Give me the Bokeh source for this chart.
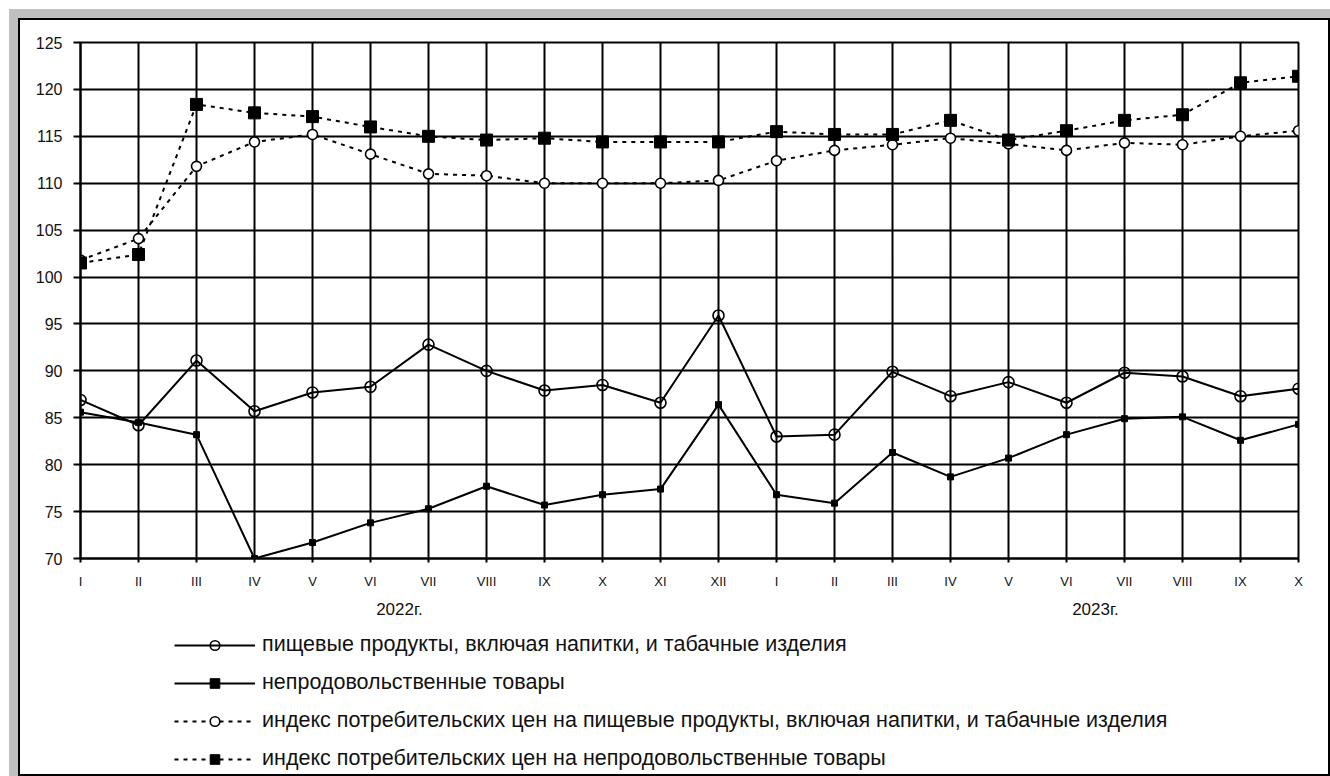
from bokeh.plotting import figure
from bokeh.layouts import column
from bokeh.models import Range1d, FixedTicker, LinearAxis, Legend, LegendItem
from bokeh.embed import file_html
from bokeh.resources import INLINE

months = ["I", "II", "III", "IV", "V", "VI", "VII", "VIII", "IX", "X", "XI", "XII",
          "I", "II", "III", "IV", "V", "VI", "VII", "VIII", "IX", "X"]
years = ["2022г.", "2023г."]
year_pos = [5.5, 17.5]
yticks = [70, 75, 80, 85, 90, 95, 100, 105, 110, 115, 120, 125]

food = [86.9, 84.2, 91.1, 85.7, 87.7, 88.3, 92.8, 90.0, 87.9, 88.5, 86.6, 95.9,
        83.0, 83.2, 89.9, 87.3, 88.8, 86.6, 89.8, 89.4, 87.3, 88.1]
nonfood = [85.6, 84.5, 83.2, 70.0, 71.7, 73.8, 75.3, 77.7, 75.7, 76.8, 77.4, 86.4,
           76.8, 75.9, 81.3, 78.7, 80.7, 83.2, 84.9, 85.1, 82.6, 84.3]
cpi_food = [101.8, 104.1, 111.8, 114.4, 115.2, 113.1, 111.0, 110.8, 110.0, 110.0, 110.0, 110.3,
            112.4, 113.5, 114.1, 114.8, 114.2, 113.5, 114.3, 114.1, 115.0, 115.6]
cpi_nonfood = [101.5, 102.4, 118.4, 117.5, 117.1, 116.0, 115.0, 114.6, 114.8, 114.4, 114.4, 114.4,
               115.5, 115.2, 115.2, 116.7, 114.6, 115.6, 116.7, 117.3, 120.7, 121.4]

labels = [
    "пищевые продукты, включая напитки, и табачные изделия",
    "непродовольственные товары",
    "индекс потребительских цен на пищевые продукты, включая напитки, и табачные изделия",
    "индекс потребительских цен на непродовольственные товары",
]

x = list(range(len(months)))
FONT = "Liberation Sans"

styles = [
    dict(line_width=2, line_dash="solid", marker="circle", size=11, fill_color=None, mlw=1.6),
    dict(line_width=2, line_dash="solid", marker="square", size=6, fill_color="black", mlw=1),
    dict(line_width=2, line_dash="4 5", marker="circle", size=10, fill_color="white", mlw=1.6),
    dict(line_width=2, line_dash="4 5", marker="square", size=12, fill_color="black", mlw=1),
]
series = [food, nonfood, cpi_food, cpi_nonfood]

p = figure(width=1330, height=628, x_range=Range1d(0, len(months) - 1), y_range=Range1d(70, 125),
           output_backend="svg", toolbar_location=None,
           min_border_left=80, min_border_right=32, min_border_top=42, min_border_bottom=70)
p.border_fill_color = None
p.background_fill_color = "white"
p.outline_line_color = "black"
p.outline_line_width = 2

# axes
p.xaxis.ticker = FixedTicker(ticks=x)
p.xaxis.major_label_overrides = {i: m for i, m in zip(x, months)}
p.xaxis.major_tick_out = 4
p.xaxis.major_tick_in = 0
p.xaxis.minor_tick_line_color = None
p.xaxis.major_tick_line_width = 2
p.xaxis.axis_line_width = 2
p.xaxis.major_label_standoff = 11
p.xaxis.major_label_text_font = FONT
p.xaxis.major_label_text_font_size = "13px"
p.xaxis.major_label_text_color = "#111111"

p.yaxis.ticker = FixedTicker(ticks=yticks)
p.yaxis.major_tick_out = 7
p.yaxis.major_tick_in = 0
p.yaxis.minor_tick_line_color = None
p.yaxis.major_tick_line_width = 2
p.yaxis.axis_line_width = 2
p.yaxis.major_label_standoff = 11
p.yaxis.major_label_text_font = FONT
p.yaxis.major_label_text_font_size = "16px"
p.yaxis.major_label_text_color = "#111111"

year_axis = LinearAxis(ticker=FixedTicker(ticks=year_pos),
                       major_label_overrides={pos: y for pos, y in zip(year_pos, years)})
year_axis.axis_line_color = None
year_axis.major_tick_line_color = None
year_axis.minor_tick_line_color = None
year_axis.major_tick_out = 0
year_axis.major_tick_in = 0
year_axis.major_label_standoff = 8
year_axis.major_label_text_font = FONT
year_axis.major_label_text_font_size = "17px"
year_axis.major_label_text_color = "#111111"
p.add_layout(year_axis, "below")

for g in (p.xgrid, p.ygrid):
    g.grid_line_color = "black"
    g.grid_line_width = 2

# series on the chart
for vals, st in zip(series, styles):
    p.line(x, vals, line_color="black", line_width=st["line_width"], line_dash=st["line_dash"])
    p.scatter(x, vals, marker=st["marker"], size=st["size"], fill_color=st["fill_color"],
              line_color="black", line_width=st["mlw"])

# legend panel below the chart: the same series, kept outside its visible ranges,
# so that only the legend swatches are drawn
q = figure(width=1330, height=148, output_backend="svg", toolbar_location=None,
           x_range=Range1d(-3, -2), y_range=Range1d(0, 1),
           min_border=0, x_axis_type=None, y_axis_type=None)
q.border_fill_color = None
q.background_fill_color = None
q.outline_line_color = None
q.xgrid.visible = False
q.ygrid.visible = False

items = []
for lab, vals, st in zip(labels, series, styles):
    lr = q.line(x, vals, line_color="black", line_width=st["line_width"], line_dash=st["line_dash"])
    mr = q.scatter(x, vals, marker=st["marker"], size=st["size"], fill_color=st["fill_color"],
                   line_color="black", line_width=st["mlw"])
    items.append(LegendItem(label=lab, renderers=[lr, mr]))

legend = Legend(items=items)
legend.location = (94, 5)
legend.glyph_width = 81
legend.glyph_height = 24
legend.label_height = 24
legend.spacing = 13
legend.padding = 0
legend.margin = 0
legend.label_standoff = 7
legend.border_line_color = None
legend.background_fill_alpha = 0
legend.label_text_font = FONT
legend.label_text_font_size = "21.5px"
legend.label_text_color = "#111111"
q.add_layout(legend)

layout = column(p, q, spacing=0)
layout.styles = {
    "background-color": "white",
    "box-shadow": ("inset 9px 9px 0 0 #ffffff, inset 18px 18px 0 0 #c0c0c0, "
                   "inset 20px 20px 0 0 #000000, inset -2px -2px 0 0 #000000"),
}

open("out.html", "w").write(file_html(layout, INLINE))
